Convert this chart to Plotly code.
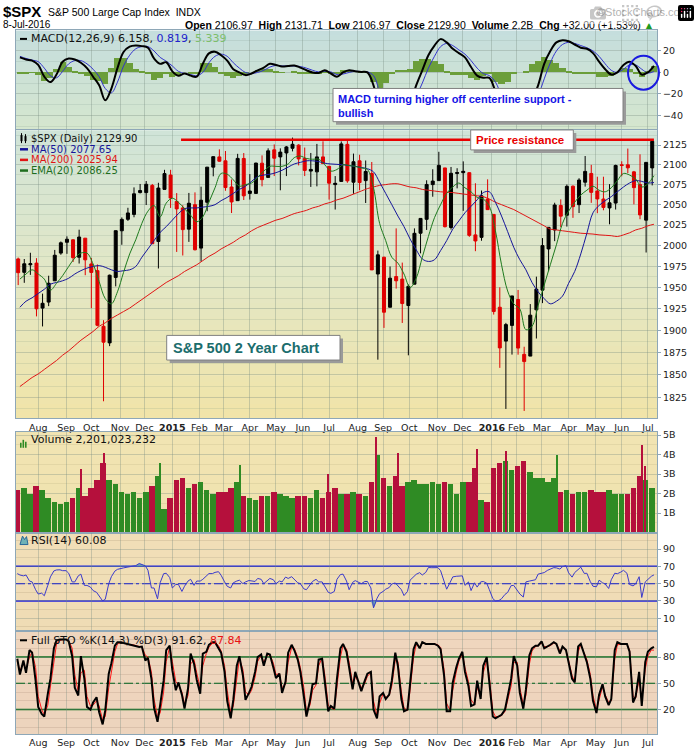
import numpy as np
import pandas as pd
import plotly.graph_objects as go

W, H = 700, 748
L, R = 16, 43
PW = W - L - R
FONT = "DejaVu Sans"
ARIAL = "Liberation Sans"

# ---------------- data (one row = one week, from 2014-07-07) -------------
px_open = [1984, 1968, 1977, 1979, 1926, 1933, 1958, 1991, 2004, 2007,
           1986, 2009, 1978, 1970, 1905, 1886, 1962, 2018, 2032, 2038,
           2065, 2065, 2074, 2005, 2069, 2087, 2054, 2046, 2020, 2050,
           1997, 2053, 2097, 2110, 2105, 2072, 2055, 2108, 2064, 2064,
           2102, 2084, 2119, 2110, 2115, 2121, 2125, 2108, 2092, 2091,
           2110, 2098, 2075, 2079, 2126, 2078, 2105, 2080, 2089, 1966,
           1986, 1927, 1963, 1960, 1929, 1954, 2015, 2032, 2075, 2080,
           2096, 2022, 2089, 2090, 2090, 2013, 2010, 2057, 2038, 1927,
           1888, 1906, 1936, 1873, 1871, 1924, 1947, 1996, 2019, 2049,
           2037, 2073, 2050, 2078, 2089, 2067, 2057, 2046, 2052, 2100,
           2100, 2091, 2075, 2031, 2096]
px_high = [1985.6, 1983.9, 1991.4, 1984.9, 1942.9, 1964.0, 1994.8, 2005.0, 2011.2, 2007.7,
           2019.3, 2009.1, 1985.2, 1977.4, 1912.0, 1965.3, 2018.2, 2034.3, 2046.2, 2071.5,
           2075.8, 2079.5, 2075.8, 2077.3, 2093.6, 2093.6, 2064.4, 2049.3, 2064.6, 2065.3,
           2072.4, 2097.0, 2110.6, 2119.6, 2117.5, 2081.4, 2113.9, 2114.9, 2088.2, 2102.6,
           2111.9, 2120.9, 2125.9, 2120.9, 2123.9, 2134.7, 2126.2, 2121.9, 2115.0, 2126.6,
           2129.9, 2098.0, 2085.7, 2129.7, 2132.8, 2114.2, 2112.7, 2105.4, 2103.5, 1994.0,
           1986.7, 1975.0, 2020.9, 1979.6, 1953.7, 2020.9, 2033.5, 2080.4, 2094.3, 2116.5,
           2096.0, 2097.2, 2095.6, 2104.3, 2090.4, 2076.7, 2067.6, 2081.6, 2038.2, 1950.3,
           1908.9, 1940.2, 1947.2, 1881.6, 1930.7, 1962.9, 2009.1, 2022.4, 2052.4, 2056.6,
           2075.1, 2074.0, 2083.0, 2111.1, 2099.9, 2084.9, 2084.9, 2075.6, 2100.1, 2104.4,
           2120.6, 2092.2, 2113.3, 2103.5, 2131.7]
px_low = [1952.9, 1955.6, 1965.0, 1916.4, 1904.8, 1928.3, 1958.0, 1989.0, 1990.1, 1980.3,
          1978.5, 1964.6, 1926.0, 1905.0, 1820.7, 1882.3, 1951.4, 2001.0, 2030.0, 2034.5,
          2064.0, 2049.6, 2002.3, 1972.6, 2069.0, 2046.0, 1992.4, 1988.1, 2004.5, 1994.2,
          1980.9, 2041.9, 2085.4, 2103.8, 2067.3, 2039.7, 2055.0, 2055.8, 2056.3, 2064.0,
          2072.8, 2084.0, 2085.7, 2067.9, 2085.7, 2117.0, 2099.2, 2085.7, 2072.1, 2072.8,
          2101.0, 2056.3, 2044.0, 2079.0, 2077.3, 2063.5, 2067.9, 2052.1, 1970.9, 1867.0,
          1903.1, 1927.0, 1948.8, 1908.8, 1871.9, 1954.0, 1990.7, 2019.0, 2059.9, 2080.0,
          2022.0, 2019.4, 2070.3, 2042.4, 2010.6, 1993.3, 2005.9, 2043.6, 1918.5, 1857.8,
          1812.3, 1872.7, 1872.6, 1810.1, 1871.0, 1891.0, 1931.8, 1969.3, 2005.4, 2022.5,
          2023.1, 2033.8, 2039.7, 2072.5, 2052.3, 2039.5, 2043.1, 2025.9, 2044.0, 2085.4,
          2089.4, 2050.4, 2032.1, 1991.7, 2074.0]
px_close = [1967.6, 1978.2, 1978.3, 1925.2, 1931.6, 1955.1, 1988.4, 2003.4, 2007.7, 1985.5,
            2010.4, 1982.9, 1967.9, 1906.1, 1886.8, 1964.6, 2018.1, 2031.9, 2039.8, 2063.5,
            2067.6, 2075.4, 2002.3, 2070.7, 2088.8, 2058.2, 2044.8, 2019.4, 2051.8, 1995.0,
            2055.5, 2097.0, 2110.3, 2104.5, 2071.3, 2053.4, 2108.1, 2061.0, 2067.0, 2102.1,
            2081.2, 2117.7, 2108.3, 2116.1, 2122.7, 2126.1, 2107.4, 2092.8, 2094.1, 2110.0,
            2101.5, 2076.8, 2076.6, 2126.6, 2079.7, 2103.8, 2077.6, 2091.5, 1970.9, 1988.9,
            1921.2, 1961.1, 1958.0, 1931.3, 1951.4, 2014.9, 2033.1, 2075.2, 2079.4, 2099.2,
            2023.0, 2089.2, 2090.1, 2091.7, 2012.4, 2005.6, 2061.0, 2043.9, 1922.0, 1880.3,
            1906.9, 1940.2, 1880.1, 1864.8, 1917.8, 1948.1, 2000.0, 2022.2, 2049.6, 2035.9,
            2072.8, 2047.6, 2080.7, 2091.6, 2065.3, 2057.1, 2046.6, 2052.3, 2099.1, 2099.1,
            2096.1, 2071.2, 2037.4, 2103.0, 2129.9]

ma50 = [1927, 1934, 1938, 1943, 1948, 1954, 1956, 1958, 1961, 1966,
        1970, 1973, 1975, 1976, 1974, 1971, 1969, 1970, 1971, 1975,
        1986, 1996, 2006, 2016, 2023, 2031, 2039, 2045, 2046, 2046,
        2047, 2048, 2050, 2055, 2059, 2064, 2069, 2073, 2079, 2085,
        2087, 2088, 2090, 2093, 2097, 2101, 2103, 2105, 2105, 2104,
        2102, 2101, 2100.5, 2100, 2099, 2098, 2096.5, 2095, 2091, 2078,
        2064, 2050, 2036, 2023, 2008, 1995, 1984, 1981, 1983, 1994,
        2006, 2020, 2030, 2040, 2048, 2056, 2065, 2066, 2053, 2036,
        2017, 1998, 1983, 1971, 1956, 1945, 1937, 1931, 1934, 1940,
        1955, 1969, 1990, 2015, 2040, 2049, 2055, 2060, 2066, 2072,
        2077, 2080, 2079, 2077, 2077.65]
ma200 = [1837, 1842, 1847, 1851, 1856, 1861, 1866, 1872, 1877, 1883,
         1889, 1894, 1899, 1905, 1909, 1914, 1918, 1922, 1926, 1931,
         1936, 1941, 1946, 1951, 1956, 1960, 1964, 1969, 1973, 1977,
         1982, 1987, 1991, 1996, 2000, 2004, 2009, 2013, 2018, 2022,
         2025, 2028, 2031, 2033, 2036, 2039, 2041, 2043, 2046, 2048,
         2051, 2053, 2056, 2058, 2061, 2064, 2067, 2070, 2072, 2074,
         2075, 2076, 2076, 2074, 2072, 2071, 2069, 2068, 2067, 2066,
         2065.5, 2065, 2064, 2063, 2062, 2061, 2060, 2057, 2053, 2050,
         2047, 2044, 2040, 2036, 2032, 2028, 2024, 2020, 2019, 2018,
         2017, 2016, 2015, 2014.5, 2014, 2013, 2012.5, 2012, 2011, 2013,
         2015.5, 2019, 2021, 2024, 2025.94]
ema20 = [1960, 1966, 1971, 1966, 1960, 1947, 1955, 1964, 1975, 1985,
         1991, 1991, 1978, 1957, 1937, 1931, 1945, 1968, 1990, 2007,
         2027, 2042, 2049, 2035, 2052, 2058, 2053, 2045, 2037, 2029,
         2035, 2053, 2071, 2089, 2088, 2081, 2073, 2075, 2077, 2084,
         2092, 2098, 2098, 2098, 2101, 2109, 2111, 2108, 2107, 2107,
         2100, 2092, 2094, 2100, 2099, 2098, 2096, 2094, 2071, 2027,
         2006, 1986, 1979, 1966, 1950, 1961, 1986, 2011, 2034, 2050,
         2064, 2072, 2077, 2071, 2066, 2059, 2057, 2048, 2018, 1977,
         1946, 1931, 1925, 1901, 1905, 1929, 1953, 1977, 2001, 2027,
         2042, 2053, 2062, 2068, 2073, 2068, 2066, 2071, 2080, 2089,
         2087, 2082, 2072, 2076, 2086.25]

# weekly volume, billions of shares
volume_b = [2.2, 2.3, 2.0, 2.4, 2.2, 1.8, 1.6, 1.5, 1.6, 1.8,
            2.3, 1.9, 2.3, 2.7, 3.6, 2.7, 2.5, 2.1, 2.0, 2.1,
            1.8, 2.1, 2.4, 2.9, 1.2, 1.8, 2.7, 2.8, 2.3, 2.5,
            2.6, 2.2, 2.0, 2.1, 2.1, 2.3, 2.6, 1.9, 1.8, 1.7,
            1.9, 1.9, 2.1, 2.0, 1.9, 1.8, 1.9, 1.9, 1.8, 2.2,
            1.8, 2.1, 2.3, 2.0, 2.0, 2.1, 2.0, 1.9, 2.6, 4.0,
            2.8, 2.4, 2.9, 2.4, 2.6, 2.7, 2.5, 2.5, 2.6, 2.5,
            2.6, 2.5, 2.0, 2.6, 2.6, 3.3, 1.7, 1.6, 3.3, 3.6,
            3.7, 3.2, 3.4, 3.7, 3.1, 2.8, 2.8, 2.6, 2.8, 2.1,
            2.2, 2.0, 2.1, 2.1, 2.2, 2.1, 2.1, 2.2, 2.0, 2.0,
            2.0, 2.3, 2.9, 2.7, 2.3]
# single heavy sessions that stand out above the weekly level
spike_dates = ["2014-09-19", "2014-10-15", "2014-12-19", "2015-03-20", "2015-06-29",
               "2015-08-24", "2015-08-26", "2015-09-18", "2015-12-18", "2016-01-20",
               "2016-03-18", "2016-06-24", "2016-06-27"]
spike_vols = [3.25, 4.1, 3.6, 3.5, 3.0, 4.9, 3.8, 4.1, 4.3, 4.2, 4.0, 4.5, 3.4]
spike_up = [False, False, True, True, False, False, True, False, False, False, True, False, False]

# MACD(12,26,9), weekly (Friday) readings
macd_line = [14, 12, 11, 7, -4, -9, -2, 10, 13, 12,
             9, 4, -4, -12, -26, -15, 4, 19, 24, 25,
             24.5, 23, 13, 8, 9.5, 1, -3, -1, -3, -4,
             8, 17.7, 19.3, 16, 11, 3, 0, -2.5, -1, 2,
             4.5, 8, 7, 5.5, 6, 6.5, 4.5, 2, 0, -0.5,
             2, -1, -4, 0, 2, 1, 0.5, 0, -12, -35,
             -42, -40, -35, -33, -28, -12, 2, 16, 25, 31,
             28, 22, 18, 14, 5, -3, -5, -5, -18, -33,
             -43, -42, -40, -38, -26, -12, 8, 20, 28, 30,
             29, 26, 23, 22, 18, 10, 3, -2, 0, 7,
             10, 6, -2, 0, 6.158]
macd_signal = [15, 13, 11.5, 10, 4, -3, -5, 1, 8, 11,
               11, 8, 3, -4, -15, -19, -9, 6, 16, 22,
               24, 24, 20, 14, 10.5, 6, 1, -1, -2, -3,
               0, 9, 15, 17, 15, 9, 4, 0, -1, 0,
               2, 5, 6.5, 6, 6, 6, 5.5, 4, 2, 0.5,
               1, 0.5, -2, -1.5, 0, 1, 0.8, 0.5, -3, -18,
               -32, -38, -37, -35, -31, -22, -10, 4, 15, 24,
               27, 25, 21, 17, 11, 4, -1, -3, -9, -22,
               -34, -40, -40, -39, -33, -22, -6, 9, 20, 26,
               28, 27, 25, 23, 20, 15, 8, 2, 0, 3,
               7, 7, 3, -0.5, 0.819]

# RSI(14) and Full STO, two readings per week (Tuesday, Friday)
rsi14 = [61.6, 60, 59, 60, 53, 52, 43, 38, 39, 36,
         48, 57.8, 64.7, 65.8, 66, 65, 65, 62, 52, 52,
         59, 61, 48, 48, 46, 42, 40, 36, 30, 32,
         50, 58, 64.5, 66.5, 67.9, 68.2, 69, 69.3, 70, 70.8,
         73.3, 72.2, 70.5, 65.5, 45, 45, 32.5, 51, 61.5, 62,
         57, 45, 49, 49, 41, 47, 53, 55, 48, 53,
         53, 55, 59, 61.6, 61.6, 63, 63.8, 59.7, 52, 47,
         45, 51, 53, 54, 50, 52, 53.6, 53, 52.5, 56,
         55, 50, 54, 56, 54.5, 50, 53, 52, 57.6, 56,
         58, 55.3, 51, 50, 44, 43, 48.6, 52.6, 55, 52,
         52, 47, 40, 38.8, 41, 55, 60.5, 61, 53, 43,
         51.5, 53.5, 51.8, 50, 52.5, 52.5, 45, 22, 33, 38.5,
         41, 43.6, 45.5, 49.6, 50.8, 47, 43, 36.2, 41, 54,
         58, 60.8, 62.7, 60, 63, 68.6, 68.4, 68.4, 68.5, 65,
         51.3, 43.6, 51.5, 57.8, 58.5, 58.5, 59, 48, 52, 42,
         51, 46, 52, 52.5, 50.5, 43, 32.7, 30, 30.5, 32.6,
         37.6, 39.8, 47.7, 48, 42, 38, 34.5, 52, 53, 53.9,
         54.5, 61, 62.5, 62.8, 65.5, 66.5, 68.5, 68.2, 66.8, 69.6,
         70.8, 62.5, 57.5, 62.8, 66.5, 69, 61.8, 62, 52.2, 47,
         46.4, 54, 51, 49.6, 44.4, 54.5, 62, 61.5, 63.4, 65.4,
         62, 49, 47.4, 49.8, 58, 34, 52, 55, 58.5, 60.08]
sto_k = [78, 60, 76, 62, 88, 85, 53, 23, 15, 12,
         38, 55, 90, 99, 100, 100, 100, 98, 81, 45,
         36, 81, 55, 23, 20, 28, 34, 17, 3, 19,
         61, 73, 93, 97, 97, 96, 95, 94, 93.5, 93,
         91.6, 92, 76, 79, 55, 22, 6, 25, 53, 88,
         93, 65, 42, 51, 37, 21, 44, 84, 72, 54,
         38, 84, 86, 94, 97, 97, 90, 85, 63, 30,
         10, 31, 70, 81, 59, 31, 39, 46, 63, 80,
         83, 70, 84, 83, 68, 56, 61, 39, 52, 85,
         94, 88, 77, 63, 35, 12, 30, 49, 50, 77,
         78, 53, 18, 24, 21, 55, 90, 95, 86, 68,
         43, 63, 51, 41, 53, 61, 63, 20, 10, 35,
         39, 32, 37, 53, 85, 70, 32, 18, 20, 53,
         89, 97, 90, 97, 95, 95, 95, 95, 93, 89,
         59, 18, 18, 51, 68, 78, 86, 63, 47, 24,
         26, 53, 32, 70, 80, 51, 12, 10, 12, 14,
         20, 37, 55, 81, 70, 39, 21, 43, 82, 90,
         93, 93, 98, 90, 92, 94, 97, 95, 84, 92,
         88, 72, 55, 51, 92, 95, 82, 74, 55, 30,
         16, 37, 49, 35, 25, 32, 88, 97, 95, 95,
         95, 86, 28, 35, 63, 24, 74, 86, 90, 91.62]
sto_d = [75, 65, 72, 66, 80, 86, 68, 35, 20, 14,
         25, 45, 75, 95, 99, 100, 100, 99, 90, 60,
         40, 62, 65, 35, 24, 25, 30, 24, 8, 12,
         45, 65, 86, 95, 97, 96, 95, 94, 94, 93,
         92, 92, 82, 80, 63, 32, 12, 16, 40, 75,
         92, 75, 52, 48, 40, 26, 36, 72, 77, 62,
         45, 70, 84, 91, 96, 97, 93, 87, 70, 42,
         16, 24, 56, 78, 66, 40, 37, 42, 57, 75,
         82, 74, 82, 83, 73, 60, 61, 45, 49, 74,
         91, 90, 80, 68, 45, 18, 25, 42, 48, 70,
         79, 60, 25, 22, 20, 43, 80, 93, 89, 74,
         50, 57, 52, 45, 50, 58, 62, 30, 13, 27,
         38, 34, 36, 47, 77, 75, 40, 22, 19, 42,
         80, 94, 92, 96, 95, 95, 95, 95, 94, 91,
         66, 27, 19, 42, 63, 75, 84, 68, 52, 31,
         26, 46, 33, 62, 76, 58, 18, 12, 12, 13,
         18, 31, 47, 74, 74, 45, 26, 36, 72, 87,
         92, 93, 96, 92, 92, 93, 96, 95, 87, 91,
         88, 76, 59, 52, 86, 94, 85, 77, 60, 36,
         20, 31, 46, 37, 28, 30, 78, 94, 95, 95,
         95, 88, 35, 33, 55, 30, 66, 81, 88, 87.84]

resistance_level = 2132
resistance_from = "2015-01-12"
resistance_to = "2016-07-08"

month_ticks = ["2014-08-01", "2014-09-02", "2014-10-01", "2014-11-03", "2014-12-01",
               "2015-01-02", "2015-02-02", "2015-03-02", "2015-04-01", "2015-05-01",
               "2015-06-01", "2015-07-01", "2015-08-03", "2015-09-01", "2015-10-01",
               "2015-11-02", "2015-12-01", "2016-01-04", "2016-02-01", "2016-03-01",
               "2016-04-01", "2016-05-02", "2016-06-01", "2016-07-01"]
month_labels = ["Aug", "Sep", "Oct", "Nov", "Dec", "<b>2015</b>", "Feb", "Mar", "Apr", "May",
                "Jun", "Jul", "Aug", "Sep", "Oct", "Nov", "Dec", "<b>2016</b>", "Feb", "Mar",
                "Apr", "May", "Jun", "Jul"]
price_ticks = [1825, 1850, 1875, 1900, 1925, 1950, 1975, 2000, 2025, 2050, 2075, 2100, 2125]

# ---------------- dates ----------------
week_mid = pd.date_range("2014-07-09", periods=len(px_close), freq="7D")
week_end = week_mid + pd.Timedelta(days=2)
week_tue = week_mid - pd.Timedelta(days=1)
osc_dates = [d for pair in zip(week_tue, week_end) for d in pair]
DAY = 86400000

# ---------------- helpers ----------------
def xp(x):
    return (x - L) / PW


def yp(y):
    return 1 - y / H


panels = [("macd", 28.5, 127.5), ("price", 128.5, 417.5), ("vol", 431, 532),
          ("rsi", 532, 630.5), ("sto", 631, 734)]

shapes, annotations = [], []


def text(x, y, s, size=11, color="#111", family=FONT, anchor="left"):
    annotations.append(dict(xref="paper", yref="paper", x=xp(x), y=yp(y), text=s,
                            showarrow=False, xanchor=anchor, yanchor="middle",
                            font=dict(family=family, size=size, color=color)))


def rect(x0, y0, x1, y1, fill, line=None, width=1, layer="above"):
    shapes.append(dict(type="rect", xref="paper", yref="paper", x0=xp(x0), x1=xp(x1),
                       y0=yp(y1), y1=yp(y0), fillcolor=fill, layer=layer,
                       line=dict(color=line or fill, width=width if line else 0)))


def seg(x0, y0, x1, y1, color, width=2):
    shapes.append(dict(type="line", xref="paper", yref="paper", x0=xp(x0), x1=xp(x1),
                       y0=yp(y0), y1=yp(y1), line=dict(color=color, width=width)))


def gradient(top, bot, stops, n=30):
    for i in range(n):
        f = (i + 0.5) / n
        for (f0, c0), (f1, c1) in zip(stops[:-1], stops[1:]):
            if f0 <= f <= f1:
                t = (f - f0) / (f1 - f0)
                c = tuple(int(round(a + (b - a) * t)) for a, b in zip(c0, c1))
        y0 = top + (bot - top) * i / n
        y1 = min(bot, top + (bot - top) * (i + 1) / n + 0.7)
        rect(L, y0, W - R, y1, "rgb(%d,%d,%d)" % c, layer="below")


gradient(28.5, 127.5, [(0, (197, 222, 221)), (1, (213, 230, 206))], 20)
gradient(128.5, 417.5, [(0, (208, 228, 216)), (0.5, (226, 231, 198)), (1, (241, 228, 168))], 40)
gradient(431, 532, [(0, (241, 228, 178)), (1, (240, 226, 175))], 4)
gradient(532, 630.5, [(0, (241, 223, 183)), (1, (239, 219, 181))], 4)
gradient(631, 734, [(0, (239, 215, 190)), (1, (237, 211, 189))], 4)

fig = go.Figure()

# ---------------- MACD ----------------
hist = np.array(macd_line) - np.array(macd_signal)
fig.add_trace(go.Bar(x=week_end, y=hist, width=7 * DAY, marker=dict(color="#6B9E3A", line_width=0),
                     xaxis="x", yaxis="y"))
fig.add_trace(go.Scatter(x=week_end, y=macd_signal, mode="lines", line=dict(color="#3333CC", width=1),
                         line_shape="spline", xaxis="x", yaxis="y"))
fig.add_trace(go.Scatter(x=week_end, y=macd_line, mode="lines", line=dict(color="black", width=2),
                         line_shape="spline", xaxis="x", yaxis="y"))

# ---------------- price ----------------
fig.add_trace(go.Scatter(x=week_end, y=ma200, mode="lines", line=dict(color="#E01515", width=1),
                         line_shape="spline", xaxis="x2", yaxis="y2"))
fig.add_trace(go.Scatter(x=week_end, y=ma50, mode="lines", line=dict(color="#15159A", width=1),
                         line_shape="spline", xaxis="x2", yaxis="y2"))
fig.add_trace(go.Scatter(x=week_end, y=ema20, mode="lines", line=dict(color="#1E7A1E", width=1),
                         line_shape="spline", xaxis="x2", yaxis="y2"))
fig.add_trace(go.Candlestick(x=week_mid, open=px_open, high=px_high, low=px_low, close=px_close,
                             increasing=dict(line=dict(color="black", width=1), fillcolor="black"),
                             decreasing=dict(line=dict(color="#E00000", width=1), fillcolor="#E00000"),
                             whiskerwidth=0, xaxis="x2", yaxis="y2"))
fig.add_trace(go.Scatter(x=[resistance_from, resistance_to], y=[resistance_level] * 2, mode="lines",
                         line=dict(color="#E80000", width=2.5), xaxis="x2", yaxis="y2"))

# ---------------- volume ----------------
prev_close = [px_open[0]] + px_close[:-1]
vol_colors = ["#2F8B24" if c >= p else "#B5103C" for c, p in zip(px_close, prev_close)]
fig.add_trace(go.Bar(x=week_mid, y=volume_b, width=6.3 * DAY, marker=dict(color=vol_colors, line_width=0),
                     xaxis="x3", yaxis="y3"))
fig.add_trace(go.Bar(x=pd.to_datetime(spike_dates), y=spike_vols, width=1.6 * DAY,
                     marker=dict(color=["#2F8B24" if u else "#B5103C" for u in spike_up], line_width=0),
                     xaxis="x3", yaxis="y3"))

# ---------------- RSI ----------------
rsi = np.array(rsi14)
fig.add_trace(go.Scatter(x=osc_dates, y=[70] * len(rsi), mode="lines", line=dict(width=0),
                         xaxis="x4", yaxis="y4"))
fig.add_trace(go.Scatter(x=osc_dates, y=np.maximum(rsi, 70), mode="lines", line=dict(width=0),
                         fill="tonexty", fillcolor="rgba(95,160,170,0.85)", xaxis="x4", yaxis="y4"))
fig.add_trace(go.Scatter(x=osc_dates, y=[30] * len(rsi), mode="lines", line=dict(width=0),
                         xaxis="x4", yaxis="y4"))
fig.add_trace(go.Scatter(x=osc_dates, y=np.minimum(rsi, 30), mode="lines", line=dict(width=0),
                         fill="tonexty", fillcolor="rgba(95,160,170,0.85)", xaxis="x4", yaxis="y4"))
fig.add_trace(go.Scatter(x=osc_dates, y=rsi, mode="lines", line=dict(color="#3A3ACC", width=1),
                         xaxis="x4", yaxis="y4"))

# ---------------- Full STO ----------------
fig.add_trace(go.Scatter(x=osc_dates, y=sto_d, mode="lines", line=dict(color="#FF1A1A", width=1),
                         xaxis="x5", yaxis="y5"))
fig.add_trace(go.Scatter(x=osc_dates, y=sto_k, mode="lines", line=dict(color="black", width=2),
                         xaxis="x5", yaxis="y5"))

# reference lines in the oscillator panels
for ax, lv, col in [("y4", 70, "#2222DD"), ("y4", 30, "#2222DD"), ("y5", 80, "#0B6B1B"), ("y5", 20, "#0B6B1B")]:
    shapes.append(dict(type="line", xref="paper", yref=ax, x0=0, x1=1, y0=lv, y1=lv,
                       line=dict(color=col, width=1.5), layer="below"))
for ax, col in [("y4", "#2222DD"), ("y5", "#0B6B1B")]:
    shapes.append(dict(type="line", xref="paper", yref=ax, x0=0, x1=1, y0=50, y1=50,
                       line=dict(color=col, width=1.2, dash="dashdot"), layer="below"))

# ---------------- axes ----------------
x_range = ["2014-07-06 12:00", "2016-07-11 12:00"]
border = "#8EA7B7"
layout_axes = {}
y_cfg = {
    "macd": dict(range=[-52.8, 39.1], tickvals=[-40, -20, 0, 20],
                 minor=dict(tickvals=[-50, -30, -10, 10, 30], showgrid=True, gridcolor="rgba(120,150,140,0.18)")),
    "price": dict(type="log", range=[np.log10(1802), np.log10(2144.3)], tickvals=price_ticks,
                  minor=dict(tickvals=[v + 12.5 for v in price_ticks] + [1812.5], showgrid=True,
                             gridcolor="rgba(120,150,130,0.18)")),
    "vol": dict(range=[0, 5.17], tickvals=[1, 2, 3, 4, 5], ticktext=["1B", "2B", "3B", "4B", "5B"],
                minor=dict(tickvals=[0.5, 1.5, 2.5, 3.5, 4.5], showgrid=True, gridcolor="rgba(150,140,100,0.15)")),
    "rsi": dict(range=[-4.5, 109], tickvals=[10, 30, 50, 70, 90],
                minor=dict(tickvals=[0, 20, 40, 60, 80, 100], showgrid=True, gridcolor="rgba(150,130,100,0.2)")),
    "sto": dict(range=[-8, 109.4], tickvals=[20, 50, 80],
                minor=dict(tickvals=[0, 10, 30, 40, 60, 70, 90, 100], showgrid=True,
                           gridcolor="rgba(150,120,100,0.2)")),
}
for i, (name, top, bot) in enumerate(panels, start=1):
    sfx = "" if i == 1 else str(i)
    layout_axes["xaxis" + sfx] = dict(
        domain=[0, 1], anchor="y" + sfx, range=x_range, type="date",
        tickmode="array", tickvals=month_ticks, ticktext=month_labels,
        showticklabels=name in ("price", "sto"), ticks="",
        tickfont=dict(family=FONT, size=9.5, color="#222"),
        showgrid=True, gridcolor="rgba(120,140,130,0.35)", gridwidth=1,
        showline=True, mirror=True, linecolor=border, linewidth=1, zeroline=False,
        rangeslider=dict(visible=False), fixedrange=True)
    cfg = dict(domain=[yp(bot), yp(top)], anchor="x" + sfx, side="right", tickmode="array",
               showgrid=True, gridcolor="rgba(120,140,130,0.35)", zeroline=False,
               showline=True, mirror=True, linecolor=border, linewidth=1,
               ticks="outside", ticklen=3, tickcolor=border,
               tickfont=dict(family=FONT, size=9.5, color="#222"), fixedrange=True)
    cfg.update(y_cfg[name])
    layout_axes["yaxis" + sfx] = cfg

# ---------------- header ----------------
text(1, 10, "<b>$SPX</b>", size=15, family=ARIAL, color="#000")
text(46, 10.5, "S&P 500 Large Cap Index  INDX", size=10.5, family=ARIAL, color="#000")
text(691, 10, "©StockCharts.com", size=11, family=ARIAL, color="#666", anchor="right")
text(1, 23, "8-Jul-2016", size=10, family=ARIAL, color="#000")
text(656, 23, "<b>Open</b> 2106.97  <b>High</b> 2131.71  <b>Low</b> 2106.97  <b>Close</b> 2129.90  "
              "<b>Volume</b> 2.2B  <b>Chg</b> +32.00 (+1.53%) <span style='color:#1E9A1E'>▲</span>",
     size=10.5, family=ARIAL, color="#000", anchor="right")

# ---------------- panel legends ----------------
seg(20, 37, 27, 37, "black", 2)
text(29, 37, "MACD(12,26,9) 6.158, <span style='color:#2222CC'>0.819</span>, "
             "<span style='color:#7DBE6B'>5.339</span>")
# candle glyph for price
seg(21.5, 131.5, 21.5, 141.5, "black", 1)
rect(20.5, 133.5, 22.5, 139.5, "black")
seg(25.5, 132.5, 25.5, 141.5, "black", 1)
rect(24.5, 134.5, 26.5, 139.5, "black")
text(29, 136.7, "$SPX (Daily) 2129.90", size=10)
for y, col, lab in [(147.7, "#15159A", "MA(50) 2077.65"), (158.3, "#E01515", "MA(200) 2025.94"),
                    (169, "#1E6E1E", "EMA(20) 2086.25")]:
    seg(20, y, 28, y, col, 2.5)
    text(29, y, lab, size=10, color=col)
for bx, bh in [(20, 5), (22.5, 8), (25, 6)]:
    rect(bx, 447 - bh, bx + 1.6, 447, "#2F8B24")
text(29, 439, "Volume 2,201,023,232")
shapes.append(dict(type="path", xref="paper", yref="paper", layer="above",
                   path="M %f %f L %f %f L %f %f L %f %f L %f %f Z" % (
                       xp(20), yp(544), xp(22.5), yp(535.5), xp(24.5), yp(539), xp(26.5), yp(536),
                       xp(28), yp(544)),
                   fillcolor="#6FB2B6", line=dict(color="#2A6A9A", width=1)))
text(29, 539.5, "RSI(14) 60.08")
seg(20, 640, 27, 640, "black", 2)
text(29, 640, "Full STO %K(14,3) %D(3) 91.62, <span style='color:#E81010'>87.84</span>")

# ---------------- call-outs ----------------
rect(336, 89.7, 626, 123, "#9A9A9A")
rect(333, 86.7, 623, 120, "white", line="#808080")
text(336, 97.5, "<b>MACD turning higher off centerline support -</b>", size=11, family=ARIAL, color="#1414E6")
text(336, 111, "<b>bullish</b>", size=11, family=ARIAL, color="#1414E6")
shapes.append(dict(type="circle", xref="paper", yref="paper", x0=xp(628), x1=xp(659),
                   y0=yp(88), y1=yp(54), line=dict(color="#1A1AE0", width=2)))

rect(473.7, 131.3, 576.3, 151.3, "#9A9A9A")
rect(470.7, 128.3, 573.3, 148.3, "white", line="#808080")
text(474, 138.5, "<b>Price resistance</b>", size=11.5, family=ARIAL, color="#E80000")

rect(169.7, 337.3, 343, 362, "#9A9A9A")
rect(166.7, 334.3, 340, 359, "white", line="#808080")
text(171, 347, "<b>S&P 500 2 Year Chart</b>", size=14.5, family=ARIAL, color="#1B6D6D")

fig.update_layout(
    width=W, height=H, margin=dict(l=L, r=R, t=0, b=0),
    paper_bgcolor="white", plot_bgcolor="rgba(0,0,0,0)",
    showlegend=False, hovermode=False, bargap=0,
    shapes=shapes, annotations=annotations, **layout_axes)

# the page's default 8px body margin would push the fixed-size figure off the window
fig.write_html("out.html", post_script="document.body.style.margin='0px';")
